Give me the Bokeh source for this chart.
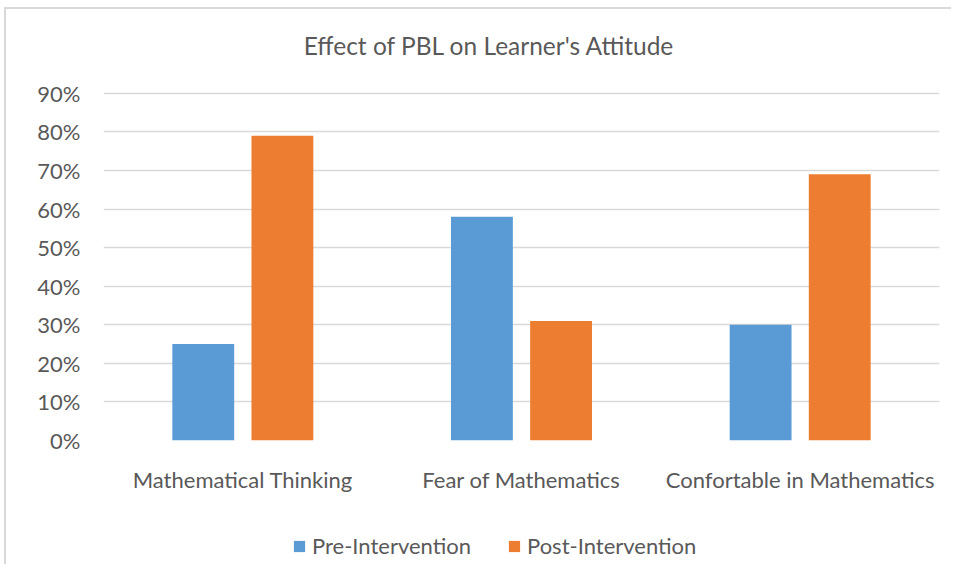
from bokeh.plotting import figure
from bokeh.layouts import column
from bokeh.models import (FactorRange, Range1d, Legend, LegendItem, NumeralTickFormatter,
                          FixedTicker, Label)
from bokeh.transform import dodge
from bokeh.embed import file_html
from bokeh.resources import INLINE
from bokeh.models import ColumnDataSource

categories = ["Mathematical Thinking", "Fear of Mathematics", "Confortable in Mathematics"]
pre_intervention = [0.25, 0.58, 0.30]
post_intervention = [0.79, 0.31, 0.69]
series_names = ["Pre-Intervention", "Post-Intervention"]
y_ticks = [0.0, 0.1, 0.2, 0.3, 0.4, 0.5, 0.6, 0.7, 0.8, 0.9]
title_text = "Effect of PBL on Learner's Attitude"

FONT = "Lato"
TXT = "#595959"
BLUE = "#5B9BD5"
ORANGE = "#ED7D31"
GRID = "#D9D9D9"

source = ColumnDataSource(dict(cat=categories, pre=pre_intervention, post=post_intervention))

# title strip (its frame lines up with the chart frame)
pt = figure(width=945, height=60, x_range=Range1d(0, 1), y_range=Range1d(0, 1),
            output_backend="svg", toolbar_location=None, min_border=0,
            x_axis_location=None, y_axis_location=None)
pt.outline_line_color = None
pt.grid.visible = False
pt.add_layout(Label(x=386, y=24, x_units="screen", y_units="screen", text=title_text,
                    text_align="center", text_baseline="middle", text_font=FONT,
                    text_font_size="24.5px", text_color=TXT))

# small headroom above the 90% line so that the top grid line is not clipped
p = figure(width=945, height=445, x_range=FactorRange(factors=categories),
           y_range=Range1d(0, 0.91), output_backend="svg", toolbar_location=None,
           min_border_left=97, min_border_right=12, min_border_top=20, min_border_bottom=74)
p.outline_line_color = None
p.x_range.range_padding = 0

r1 = p.vbar(x=dodge("cat", -0.142, range=p.x_range), top="pre", width=0.222, source=source,
            fill_color=BLUE, line_color=None)
r2 = p.vbar(x=dodge("cat", 0.142, range=p.x_range), top="post", width=0.222, source=source,
            fill_color=ORANGE, line_color=None)

p.yaxis.ticker = FixedTicker(ticks=y_ticks)
p.yaxis.formatter = NumeralTickFormatter(format="0%")
p.yaxis.axis_line_color = None
p.yaxis.major_tick_line_color = None
p.yaxis.minor_tick_line_color = None
p.yaxis.major_label_standoff = 17
p.yaxis.major_label_text_font = FONT
p.yaxis.major_label_text_font_size = "22px"
p.yaxis.major_label_text_color = TXT

p.xaxis.axis_line_color = None
p.xaxis.major_tick_line_color = None
p.xaxis.minor_tick_line_color = None
p.xaxis.major_label_standoff = 19
p.xaxis.major_label_text_font = FONT
p.xaxis.major_label_text_font_size = "22px"
p.xaxis.major_label_text_color = TXT

p.xgrid.grid_line_color = None
p.ygrid.grid_line_color = GRID
p.ygrid.grid_line_width = 1.5

# legend strip below the chart (its frame lines up with the chart frame)
pl = figure(width=945, height=50, x_range=FactorRange(factors=categories), y_range=Range1d(10, 11),
            output_backend="svg", toolbar_location=None, min_border=0,
            x_axis_location=None, y_axis_location=None)
pl.outline_line_color = None
pl.grid.visible = False
lr1 = pl.vbar(x=dodge("cat", -0.142, range=pl.x_range), top="pre", width=0.222, source=source,
              fill_color=BLUE, line_color=None)
lr2 = pl.vbar(x=dodge("cat", 0.142, range=pl.x_range), top="post", width=0.222, source=source,
              fill_color=ORANGE, line_color=None)

legend = Legend(items=[LegendItem(label=series_names[0], renderers=[lr1]),
                       LegendItem(label=series_names[1], renderers=[lr2])],
                location=(189, 5), orientation="horizontal",
                label_text_font=FONT, label_text_font_size="22px", label_text_color=TXT,
                glyph_width=14, glyph_height=14, label_standoff=6, spacing=36,
                padding=0, margin=0, border_line_color=None, background_fill_alpha=0)
pl.add_layout(legend)

layout = column(pt, p, pl, spacing=0,
                styles={"border-left": "2px solid #D9D9D9", "border-top": "2px solid #D9D9D9",
                        "margin-left": "4px", "margin-top": "7px"})

open("out.html", "w").write(file_html(layout, INLINE))
